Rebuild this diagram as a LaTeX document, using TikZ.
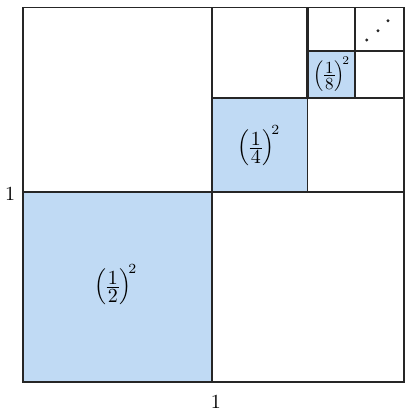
\documentclass[tikz,border=0pt]{standalone}
\usepackage{amsmath}
\definecolor{lightblue}{RGB}{192,218,244}
\newcommand{\sqfrac}[1]{$\left(\vcenter{\offinterlineskip\halign{\kern0.6pt\hfil##\hfil\kern0.6pt\cr $1$\cr\noalign{\kern1.3pt\hrule\kern1.3pt}$#1$\cr}}\right)^{\!2}$}
\begin{document}
\begin{tikzpicture}[x=0.5pt,y=-0.5pt,
  thinl/.style={line width=0.7pt,black!85},
  thickl/.style={line width=1.3pt,black!85},
  lab/.style={inner sep=0pt},
  dotm/.style={circle,fill=black!85,inner sep=0pt,minimum size=1.6pt}]
\useasboundingbox (0,0) rectangle (410,420);
% shaded squares
\fill[lightblue] (23,192) rectangle (212,382);
\fill[lightblue] (212,98) rectangle (307.5,192);
\fill[lightblue] (307.5,51) rectangle (355,98);
% thin lines
\draw[thinl] (23,7.5) rectangle (404,382);
\draw[thinl] (23,192) -- (212,192);
\draw[thinl] (212,192) -- (212,382);
\draw[thinl] (212,98) -- (307.5,98);
\draw[thinl] (307.5,98) -- (307.5,192);
\draw[thinl] (307.5,51) -- (355,51);
\draw[thinl] (355,51) -- (355,98);
% thick lines
\draw[thickl] (212,7.5) -- (212,192) -- (404,192);
\draw[thickl] (307.5,7.5) -- (307.5,98) -- (404,98);
\draw[thickl] (355,7.5) -- (355,51) -- (404,51);
% dots
\node[dotm] (d1) at (366.7,40) {};
\node[dotm] (d2) at (378,30.7) {};
\node[dotm] (d3) at (388,20.7) {};
% labels
\node[lab] (h) at (116,285) {\sqfrac{2}};
\node[lab] (q) at (259,146) {\sqfrac{4}};
\node[lab,scale=0.85] (e) at (332,74) {\sqfrac{8}};
\node[lab] (l) at (10,194) {1};
\node[lab] (b) at (216,402) {1};
\end{tikzpicture}
\end{document}
